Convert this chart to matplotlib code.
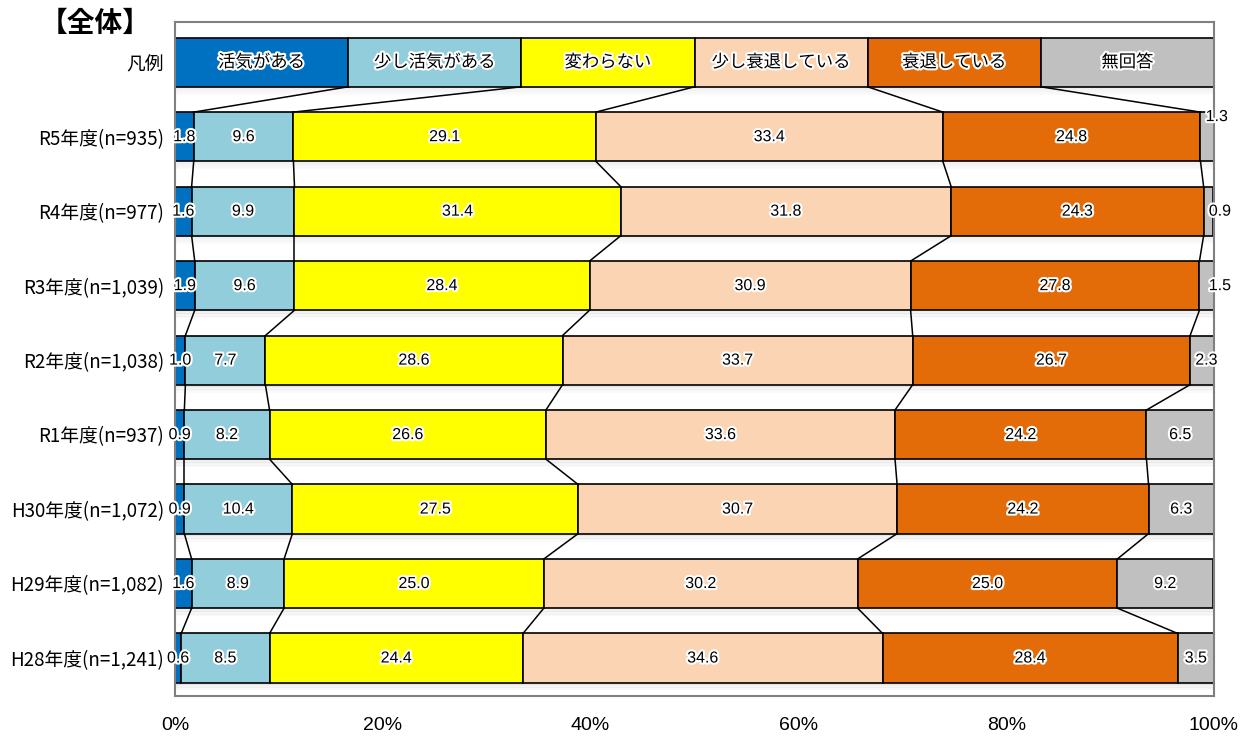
import matplotlib
matplotlib.use("Agg")
import matplotlib.pyplot as plt
import matplotlib.patheffects as pe
import numpy as np

plt.rcParams["font.family"] = ["Noto Sans CJK JP", "DejaVu Sans"]

# answer categories (legend row) and their fill colours
answers = ["活気がある", "少し活気がある", "変わらない", "少し衰退している", "衰退している", "無回答"]
colors = ["#0070C0", "#92CDDC", "#FFFF00", "#FBD4B4", "#E36C09", "#C0C0C0"]

years = ["R5年度(n=935)", "R4年度(n=977)", "R3年度(n=1,039)", "R2年度(n=1,038)",
         "R1年度(n=937)", "H30年度(n=1,072)", "H29年度(n=1,082)", "H28年度(n=1,241)"]

# percentages per year, one list per answer category
kakki = [1.8, 1.6, 1.9, 1.0, 0.9, 0.9, 1.6, 0.6]
sukoshi_kakki = [9.6, 9.9, 9.6, 7.7, 8.2, 10.4, 8.9, 8.5]
kawaranai = [29.1, 31.4, 28.4, 28.6, 26.6, 27.5, 25.0, 24.4]
sukoshi_suitai = [33.4, 31.8, 30.9, 33.7, 33.6, 30.7, 30.2, 34.6]
suitai = [24.8, 24.3, 27.8, 26.7, 24.2, 24.2, 25.0, 28.4]
mukaito = [1.3, 0.9, 1.5, 2.3, 6.5, 6.3, 9.2, 3.5]

series = np.array([kakki, sukoshi_kakki, kawaranai, sukoshi_suitai, suitai, mukaito])

fig = plt.figure(figsize=(12.41, 7.36), dpi=100)
ax = fig.add_axes([175 / 1241, 1 - 696 / 736, (1214 - 175) / 1241, (696 - 22) / 736])

H = 0.66
rows = ["凡例"] + years
ypos = np.arange(len(rows))

glow = [pe.withStroke(linewidth=3, foreground="white")]
num_font = ["Liberation Sans", "DejaVu Sans"]

# legend row: six equal-width boxes
leg_w = 100 / len(answers)
leg_left = np.arange(len(answers)) * leg_w
# data rows: cumulative stacks
lefts = np.vstack([np.zeros(series.shape[1]), np.cumsum(series, axis=0)[:-1]])

# soft shadow under every bar
for k in range(5):
    a = 0.12 - k * 0.02
    ax.barh(ypos + H / 2 + 0.015 + k * 0.02, 100, height=0.022, left=0,
            color="grey", alpha=a, lw=0, zorder=1)

ax.barh(0, [leg_w] * len(answers), left=leg_left, height=H, color=colors,
        edgecolor="black", lw=1.2, zorder=2)
for i, name in enumerate(answers):
    ax.text(leg_left[i] + leg_w / 2, 0, name, ha="center", va="center", fontsize=12.5,
            path_effects=glow, zorder=4)

for i in range(len(answers)):
    ax.barh(ypos[1:], series[i], left=lefts[i], height=H, color=colors[i],
            edgecolor="black", lw=1.2, zorder=2)

# value labels; small "no answer" values sit just past the bar end
for i in range(len(answers)):
    for j in range(len(years)):
        v = series[i, j]
        x, y, ha = lefts[i, j] + v / 2, ypos[j + 1], "center"
        if i == 5 and v < 3:
            ha = "left"
            if j == 0:
                x, y = 99.2, ypos[1] - 0.27
            elif v > 2:
                x = 98.2
            else:
                x = 99.5
        ax.text(x, y, f"{v:.1f}", ha=ha, va="center", fontsize=11.5,
                path_effects=glow, zorder=4, family=num_font)

# connector lines between neighbouring rows
bounds = [np.cumsum([leg_w] * len(answers))[:-1]]
for j in range(len(years)):
    bounds.append(np.cumsum(series[:, j])[:-1])
for r in range(len(rows) - 1):
    for k in range(len(answers) - 1):
        ax.plot([bounds[r][k], bounds[r + 1][k]],
                [ypos[r] + H / 2, ypos[r + 1] - H / 2],
                color="black", lw=1.1, zorder=3)

ax.set_xlim(0, 100)
ax.set_ylim(len(rows) - 0.49, -0.54)
ax.set_yticks(ypos)
ax.set_yticklabels(rows, fontsize=13.5)
ax.set_xticks(np.arange(0, 101, 20))
ax.set_xticklabels([f"{t}%" for t in range(0, 101, 20)], fontsize=14,
                   family=["Liberation Sans Narrow", "Liberation Sans"])
ax.tick_params(axis="x", length=0, pad=15)
ax.tick_params(axis="y", length=0, pad=8)
for s in ax.spines.values():
    s.set_color("#808080")
    s.set_linewidth(1.5)

fig.text(40 / 1241, 1 - 24 / 736, "【全体】", fontsize=20, fontweight="bold",
         ha="left", va="center")

fig.savefig("out.png", dpi=100)
